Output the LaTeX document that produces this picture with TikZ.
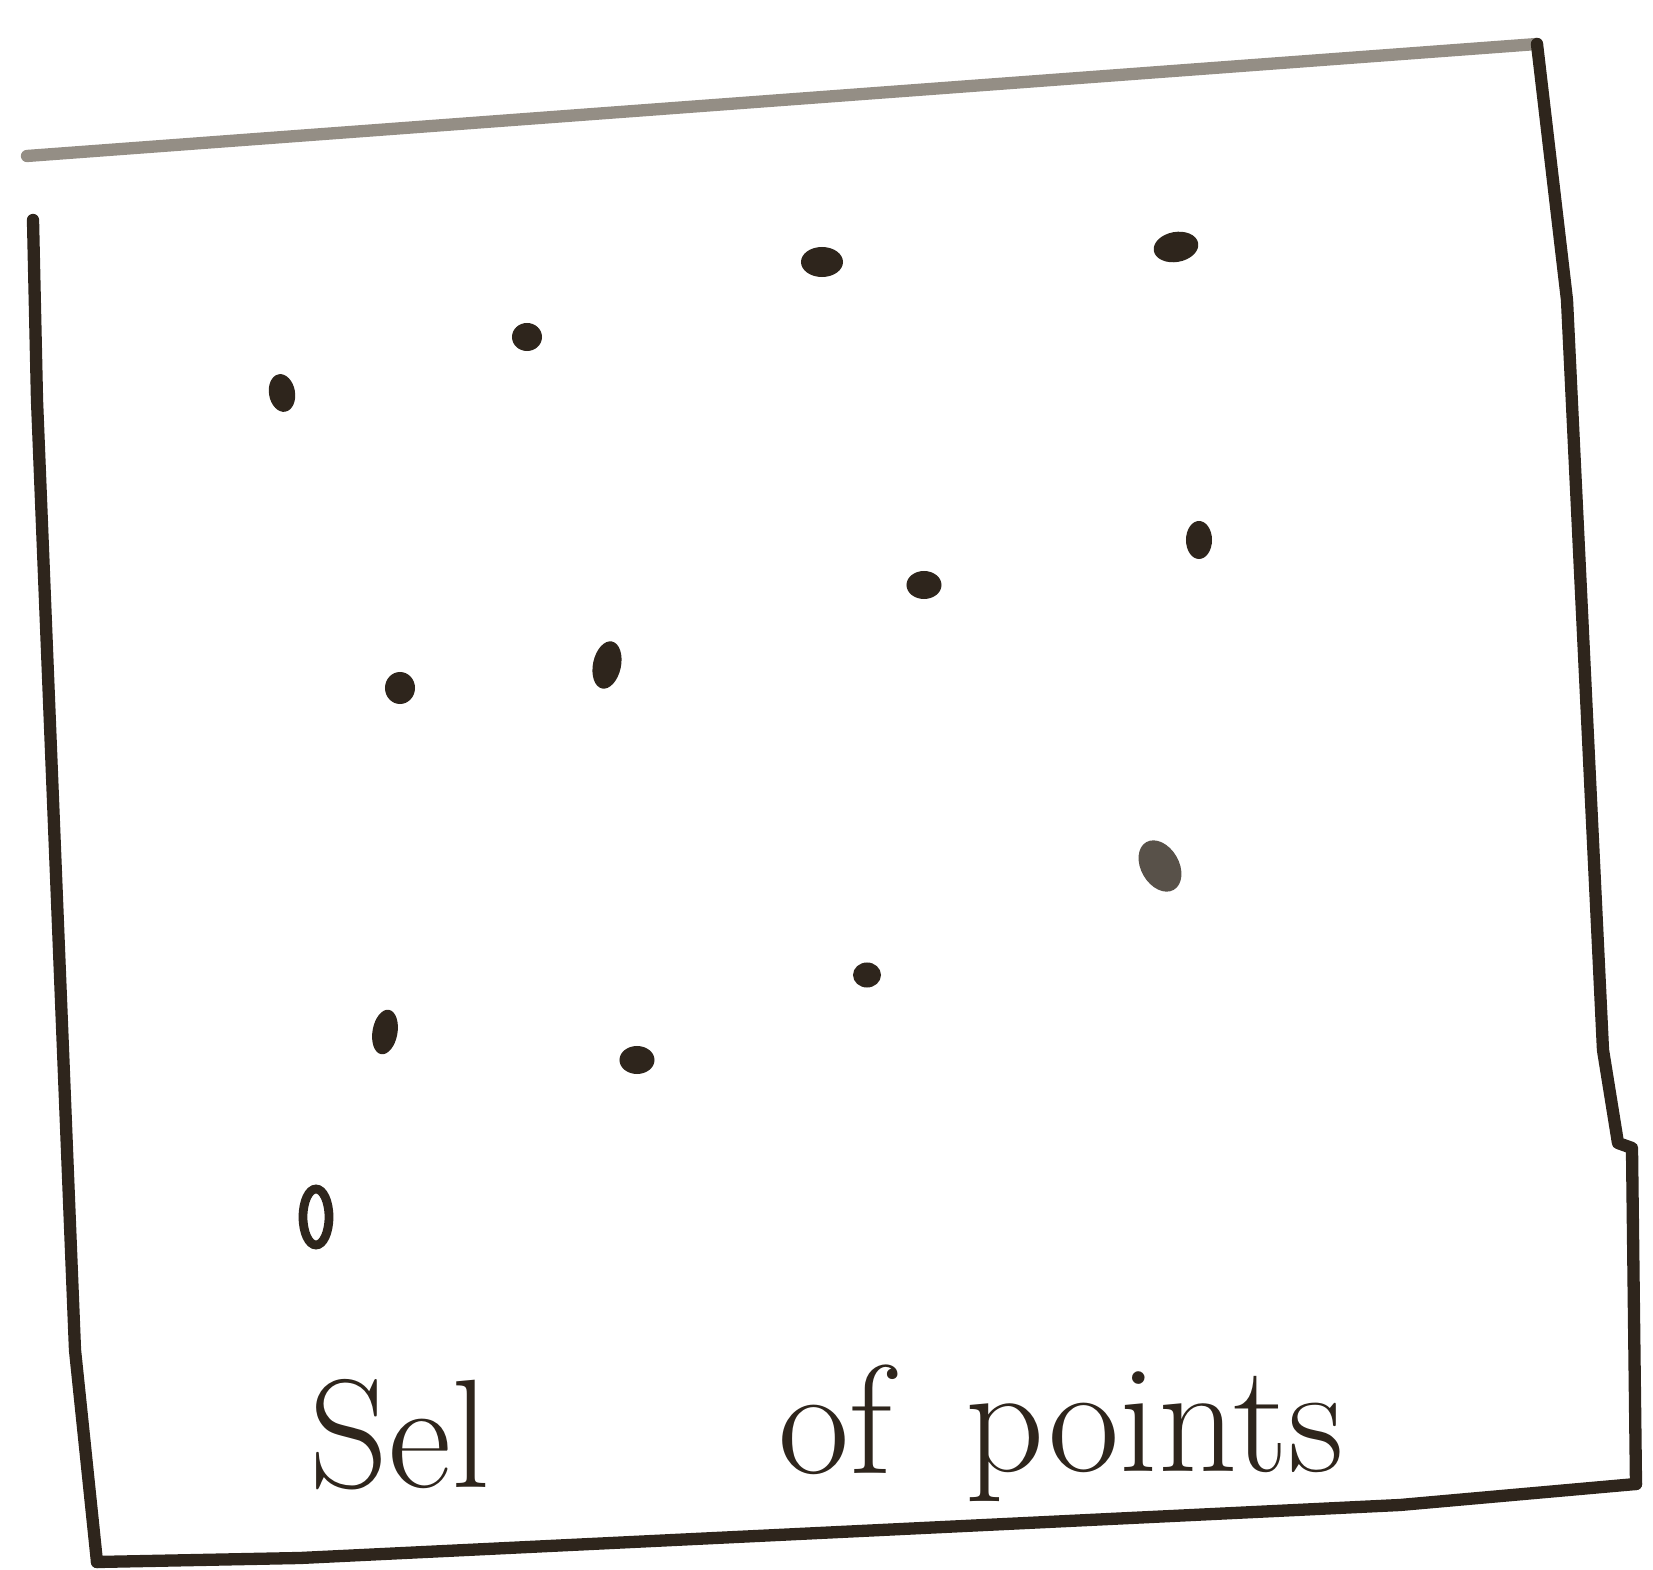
\documentclass[tikz,border=0pt]{standalone}
\usepackage{tikz}
\usetikzlibrary{shapes.geometric}
\definecolor{ink}{HTML}{2E251C}
\definecolor{pencil}{HTML}{948E85}

\begin{document}
\begin{tikzpicture}[x=0.01cm, y=-0.01cm,
  dot/.style={ellipse, fill=ink, inner sep=0pt, minimum width=0.3cm, minimum height=0.28cm},
  frameline/.style={draw=ink, line width=3.5pt, line cap=round, line join=round},
  caption/.style={text=ink, font=\fontsize{44}{50}\selectfont, inner sep=0pt}]
  \useasboundingbox (0,0) rectangle (1653,1570);

  % hand drawn frame
  \coordinate (tl) at (27,156);
  \coordinate (tr) at (1537,44);
  \coordinate (lt) at (33,220);
  \coordinate (bl) at (97,1562);
  \coordinate (br) at (1636,1484);
  \draw[frameline, draw=pencil] (tl) -- (tr);
  \draw[frameline] (tr) -- (1567,300) -- (1603,1050) -- (1618,1143) -- (1632,1148) -- (br);
  \draw[frameline] (lt) -- (37,400) -- (75,1350) -- (bl);
  \draw[frameline] (bl) -- (300,1558) -- (1400,1505) -- (br);

  % the points
  \node[dot, minimum width=0.26cm, minimum height=0.38cm, rotate=10] (p1) at (282,393) {};
  \node[dot] (p2) at (527,337) {};
  \node[dot, minimum width=0.42cm, minimum height=0.3cm] (p3) at (822,262) {};
  \node[dot, minimum width=0.45cm, minimum height=0.3cm, rotate=10] (p4) at (1176,247) {};
  \node[dot, minimum width=0.26cm, minimum height=0.38cm] (p5) at (1199,540) {};
  \node[dot, minimum width=0.35cm] (p6) at (924,585) {};
  \node[dot, minimum height=0.32cm] (p7) at (400,688) {};
  \node[dot, minimum width=0.28cm, minimum height=0.48cm, rotate=-12] (p8) at (607,665) {};
  \node[dot, fill=ink!80, minimum width=0.38cm, minimum height=0.55cm, rotate=30] (p9) at (1160,866) {};
  \node[dot, minimum width=0.28cm, minimum height=0.25cm] (p10) at (867,975) {};
  \node[dot, minimum width=0.25cm, minimum height=0.45cm, rotate=-10] (p11) at (385,1032) {};
  \node[dot, minimum width=0.35cm] (p12) at (637,1060) {};
  \node[dot, fill=none, draw=ink, line width=2.5pt, minimum width=0.26cm, minimum height=0.56cm] (p13) at (316,1217) {};

  % caption
  \node[caption, anchor=base west] (setlbl) at (309,1488) {Sel};
  \node[caption, anchor=base west] (oflbl) at (778,1474) {of};
  \node[caption, anchor=base west] (ptslbl) at (965,1472) {points};
\end{tikzpicture}
\end{document}
